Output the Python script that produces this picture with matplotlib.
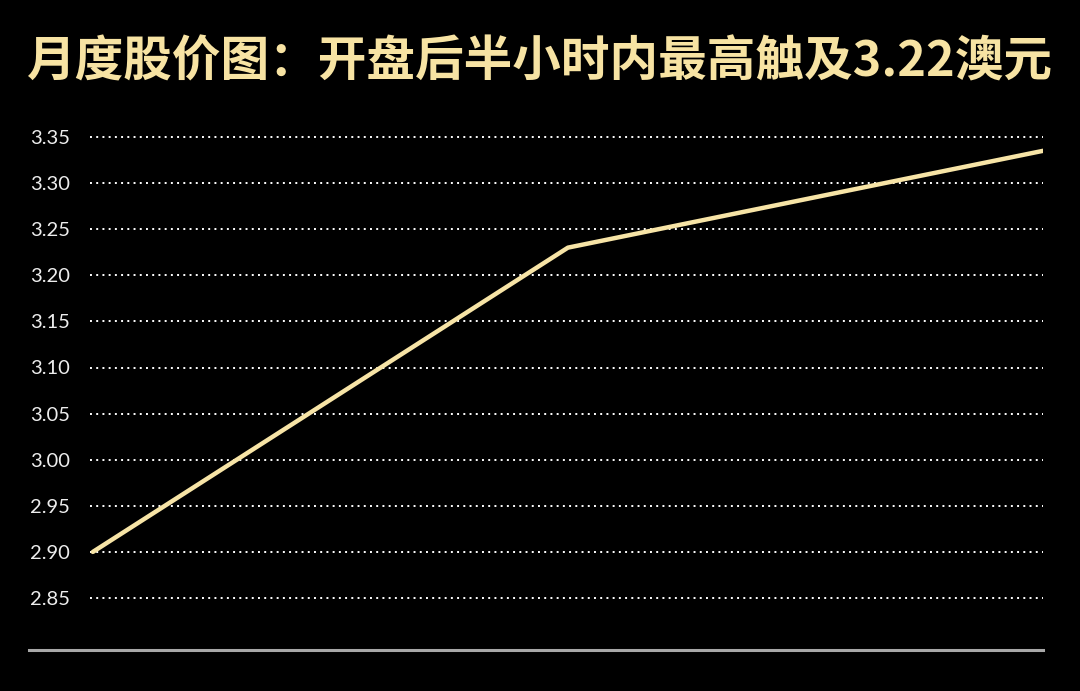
import matplotlib
matplotlib.use("Agg")
import matplotlib.pyplot as plt
from matplotlib.lines import Line2D

categories = ["开盘", "半小时", "收盘"]
prices = [2.90, 3.23, 3.335]
yticks = [2.85, 2.90, 2.95, 3.00, 3.05, 3.10, 3.15, 3.20, 3.25, 3.30, 3.35]
title = "月度股价图：开盘后半小时内最高触及3.22澳元"

plt.rcParams['font.family'] = ['Noto Sans CJK SC', 'DejaVu Sans']

fig = plt.figure(figsize=(10.8, 6.91), dpi=100, facecolor='black')
W, H = 1080, 691
left, right = 90 / W, 1043 / W
top_px, bot_px = 120, 650
ax = fig.add_axes([left, 1 - bot_px / H, right - left, (bot_px - top_px) / H])
ax.set_facecolor('black')

x = list(range(len(categories)))
ax.plot(x, prices, color='#F7E4A6', linewidth=3.2, solid_capstyle='round', zorder=3)

ppu = (598 - 137) / 0.5
ymax = 3.35 + (137 - top_px) / ppu
ymin = 2.85 - (bot_px - 598) / ppu
ax.set_ylim(ymin, ymax)
ax.set_xlim(-0.006, 2.0)

ax.set_yticks(yticks)
ax.set_yticklabels([f"{v:.2f}" for v in yticks], fontfamily='Lato', fontweight='normal',
                   fontsize=14.5, color='#EDEDED')
ax.set_xticks([])
for s in ax.spines.values():
    s.set_visible(False)
for v in yticks:
    ax.axhline(v, color='white', linestyle=(0, (1, 2.2)), linewidth=1.4, zorder=1)
for lab in ax.get_yticklabels():
    lab.set_horizontalalignment('left')
ax.tick_params(axis='y', length=0, pad=43)

fig.add_artist(Line2D([29 / W, 1043 / W], [1 - 650 / H, 1 - 650 / H],
                      color='#A8A8A8', linewidth=2.2))

fig.text(27 / W, 1 - 62 / H, title, fontsize=35, fontweight='bold', color='#F7E3A3',
         ha='left', va='center', family=['Noto Sans CJK SC', 'DejaVu Sans'])

fig.savefig('out.png', dpi=100, facecolor='black')
